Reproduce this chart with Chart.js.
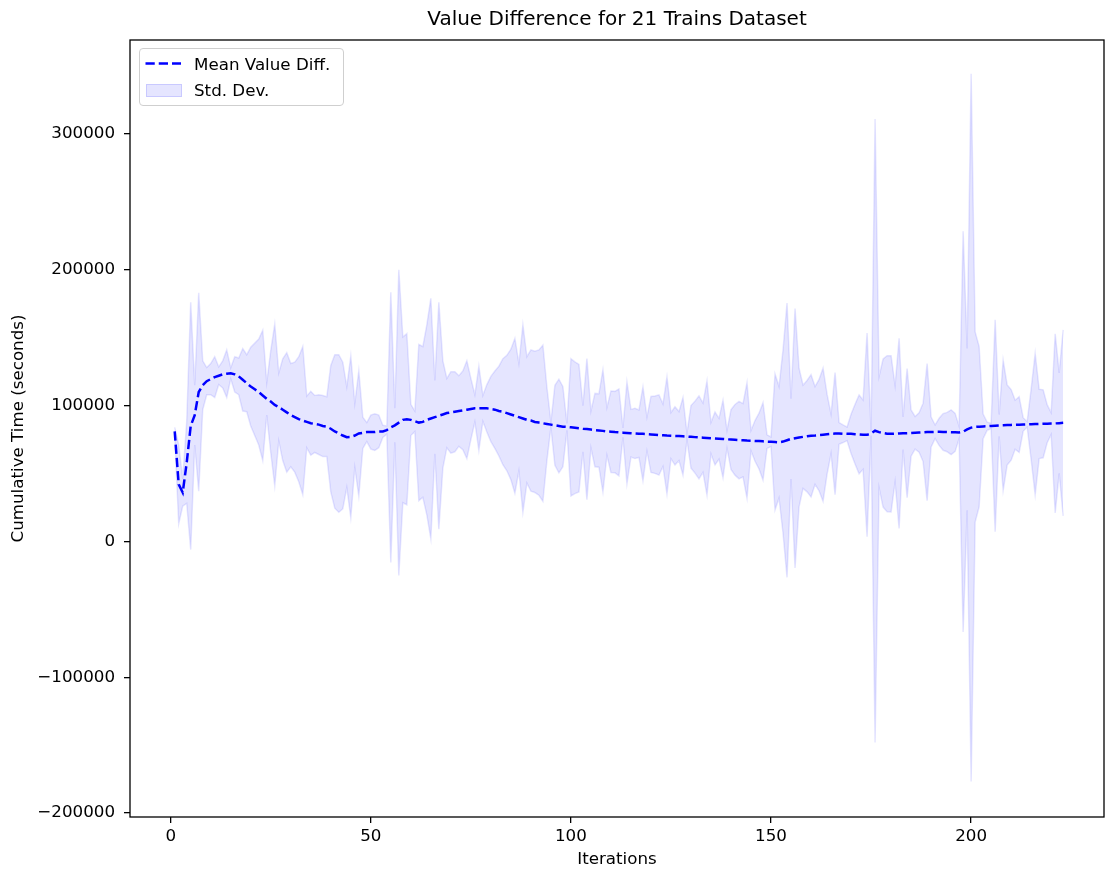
<!DOCTYPE html>
<html>
<head>
<meta charset="utf-8">
<script src="https://cdn.jsdelivr.net/npm/chart.js@4.4.0/dist/chart.umd.min.js"></script>
<style>
html,body{margin:0;padding:0;background:#fff;}
#wrap{position:relative;width:1105px;height:873px;overflow:hidden;}
canvas{display:block;}
.lg{position:absolute;font-family:"DejaVu Sans";font-size:16.7px;line-height:20px;color:#000;white-space:nowrap;}
#legendBox{position:absolute;left:139px;top:48px;width:203px;height:56px;border:1px solid #cfcfcf;border-radius:4px;background:rgba(255,255,255,0.8);}
#patch{position:absolute;left:146px;top:83.5px;width:34px;height:11px;background:rgba(0,0,255,0.1);border:1px solid rgba(0,0,255,0.12);}
</style>
</head>
<body>
<div id="wrap">
<canvas id="c" width="1105" height="873"></canvas>
<div id="legendBox"></div>
<svg style="position:absolute;left:144px;top:58px" width="40" height="11"><line x1="1.5" y1="5.5" x2="37" y2="5.5" stroke="#0000ff" stroke-width="2.5" stroke-dasharray="9.25 4"/></svg>
<div id="patch"></div>
<div class="lg" style="left:194px;top:54px">Mean Value Diff.</div>
<div class="lg" style="left:194px;top:80px">Std. Dev.</div>
</div>
<script>
const iterations = [
1,2,3,4,5,6,7,8,9,10,11,12,13,14,15,16,17,18,19,20,
21,22,23,24,25,26,27,28,29,30,31,32,33,34,35,36,37,38,39,40,
41,42,43,44,45,46,47,48,49,50,51,52,53,54,55,56,57,58,59,60,
61,62,63,64,65,66,67,68,69,70,71,72,73,74,75,76,77,78,79,80,
81,82,83,84,85,86,87,88,89,90,91,92,93,94,95,96,97,98,99,100,
101,102,103,104,105,106,107,108,109,110,111,112,113,114,115,116,117,118,119,120,
121,122,123,124,125,126,127,128,129,130,131,132,133,134,135,136,137,138,139,140,
141,142,143,144,145,146,147,148,149,150,151,152,153,154,155,156,157,158,159,160,
161,162,163,164,165,166,167,168,169,170,171,172,173,174,175,176,177,178,179,180,
181,182,183,184,185,186,187,188,189,190,191,192,193,194,195,196,197,198,199,200,
201,202,203,204,205,206,207,208,209,210,211,212,213,214,215,216,217,218,219,220,
221,222,223
];
const meanValues = [
81000,42000,36000,58000,85000,93000,110000,115000,118000,119500,
121000,122000,123000,123500,123800,123000,121500,119000,116500,114000,
112000,110000,107500,105000,103000,100500,99000,97000,95000,93000,
91500,90000,89000,88000,87000,86500,86000,85000,84500,83000,
81000,79500,78000,76800,77000,78000,79500,80000,80500,80500,
80500,81000,81000,82000,84000,85500,87500,89500,90000,89500,
88500,87500,88000,89500,90500,91500,92500,93500,94500,95000,
95500,96000,96500,97000,97500,98000,98000,98000,98000,97500,
97000,96000,95500,94500,93500,92500,91500,90500,89500,89000,
88000,87500,87000,86500,86000,85500,85000,84500,84300,84000,
83700,83400,83000,82700,82400,82000,81700,81400,81000,80800,
80500,80300,80100,79900,79700,79500,79300,79200,79000,78800,
78600,78400,78200,78000,77900,77700,77600,77400,77200,77000,
76800,76600,76400,76200,76000,75800,75600,75400,75200,75000,
74800,74600,74500,74300,74200,74000,73900,73700,73500,73400,
73200,73000,73500,74500,75500,76000,76500,77000,77500,77800,
78000,78300,78600,78900,79200,79400,79500,79300,79200,79200,
79000,78800,78600,78500,79500,81500,80500,79800,79300,79200,
79300,79500,79600,79700,79800,80000,80200,80300,80500,80600,
80700,80700,80600,80500,80400,80300,80200,80800,82500,83800,
84300,84500,84700,84800,85000,85200,85400,85500,85700,85800,
85900,86000,86100,86200,86300,86400,86500,86600,86700,86800,
86900,87100,87300
];
const stdValues = [
3000,29000,10000,30000,91000,22000,73000,18000,10000,11500,
15000,6500,10000,17500,4000,13000,13500,23000,21000,29000,
34000,39000,48000,12000,37500,59500,25000,37500,44000,38000,
40500,46000,54500,19000,23500,21000,22000,22500,22000,46500,
56500,58000,54000,37000,59500,23500,46000,11500,7000,12500,
13500,12000,4500,3000,99500,12500,112500,61000,63000,11500,
7500,57500,55500,70000,88500,27000,83500,39500,25500,30000,
29500,26000,29000,36000,22500,10000,31000,9500,17500,24000,
28500,33000,39000,42500,48000,57000,39500,69000,46500,52000,
52000,53500,57500,27000,2000,29500,34500,29500,2500,50500,
48500,47000,17000,52000,13500,27000,27000,45000,17500,30000,
30000,32000,3500,37500,17500,18500,17500,34500,12500,28000,
28500,29500,23000,43000,17000,21500,18000,28500,2500,23000,
26500,30500,25500,42000,11500,19500,15000,28500,6500,22000,
26000,28500,27000,42500,7500,15000,20500,28500,5000,3500,
50000,41000,67500,101000,29500,95500,51000,38000,41000,45000,
36000,41000,49000,29500,14500,45000,8000,6500,5000,14500,
22000,29000,25500,75000,1500,229500,41000,54500,57500,57500,
35500,70000,12000,47500,17000,12000,14500,21500,50500,11000,
5000,10000,13500,14500,16500,14000,4500,147500,59500,260500,
70000,59000,9000,3000,2000,78000,8000,48000,29500,26000,
18000,20500,5000,2000,26000,52000,25500,25000,14000,8000,
66000,37000,68500
];
const xTickValues = [0, 50, 100, 150, 200];
const yTickValues = [-200000, -100000, 0, 100000, 200000, 300000];

const FONT = "'DejaVu Sans'";
Chart.defaults.font.family = FONT;
Chart.defaults.color = '#000';

const meanPts = iterations.map((x, i) => ({x, y: meanValues[i]}));
const upperPts = iterations.map((x, i) => ({x, y: meanValues[i] + stdValues[i]}));
const lowerPts = iterations.map((x, i) => ({x, y: meanValues[i] - stdValues[i]}));

const framePlugin = {
  id: 'frame',
  afterDraw(chart) {
    const {ctx, chartArea: a} = chart;
    ctx.save();
    ctx.strokeStyle = '#000';
    ctx.lineWidth = 1.3;
    ctx.strokeRect(a.left, a.top, a.right - a.left, a.bottom - a.top);
    ctx.restore();
  }
};

const tickFont = {family: FONT, size: 16.7, lineHeight: 1.2};

new Chart(document.getElementById('c'), {
  type: 'line',
  data: {
    datasets: [
      {
        label: 'Mean Value Diff.',
        data: meanPts,
        borderColor: '#0000ff',
        borderWidth: 2.5,
        borderDash: [9.25, 4],
        pointRadius: 0,
        fill: false,
        tension: 0
      },
      {
        label: 'Std. Dev.',
        data: upperPts,
        borderColor: 'rgba(0,0,255,0.1)',
        backgroundColor: 'rgba(0,0,255,0.1)',
        borderWidth: 1.5,
        pointRadius: 0,
        fill: '+1',
        tension: 0
      },
      {
        label: 'lower',
        data: lowerPts,
        borderColor: 'rgba(0,0,255,0.1)',
        borderWidth: 1.5,
        pointRadius: 0,
        fill: false,
        tension: 0
      }
    ]
  },
  options: {
    responsive: false,
    animation: false,
    devicePixelRatio: 1,
    layout: {padding: {top: 0, right: 1, left: 0, bottom: 0}},
    plugins: {
      legend: {display: false},
      tooltip: {enabled: false},
      title: {
        display: true,
        text: 'Value Difference for 21 Trains Dataset',
        color: '#000',
        font: {family: FONT, size: 20, weight: 'normal', lineHeight: 1.2},
        padding: {top: 8, bottom: 8},
        fullSize: false
      }
    },
    scales: {
      x: {
        type: 'linear',
        min: -10.17,
        max: 233.2,
        afterFit: s => { s.height = 56; },
        afterBuildTicks: s => { s.ticks = xTickValues.map(v => ({value: v})); },
        border: {display: false},
        grid: {display: true, drawOnChartArea: false, drawTicks: true, tickLength: 6, color: '#000', lineWidth: 1.3},
        ticks: {font: tickFont, color: '#000', padding: 4, maxRotation: 0, autoSkip: false, callback: v => String(v)},
        title: {display: true, text: 'Iterations', color: '#000', font: tickFont, padding: {top: 0, bottom: 3}}
      },
      y: {
        type: 'linear',
        min: -202900,
        max: 369200,
        afterFit: s => { s.width = 130; },
        afterBuildTicks: s => { s.ticks = yTickValues.map(v => ({value: v})); },
        border: {display: false},
        grid: {display: true, drawOnChartArea: false, drawTicks: true, tickLength: 6, color: '#000', lineWidth: 1.3},
        ticks: {font: tickFont, color: '#000', padding: 9, autoSkip: false,
          callback: v => (v < 0 ? '\u2212' + Math.abs(v) : String(v))},
        title: {display: true, text: 'Cumulative Time (seconds)', color: '#000', font: tickFont, padding: {top: 9, bottom: 0}}
      }
    }
  },
  plugins: [framePlugin]
});
</script>
</body>
</html>
